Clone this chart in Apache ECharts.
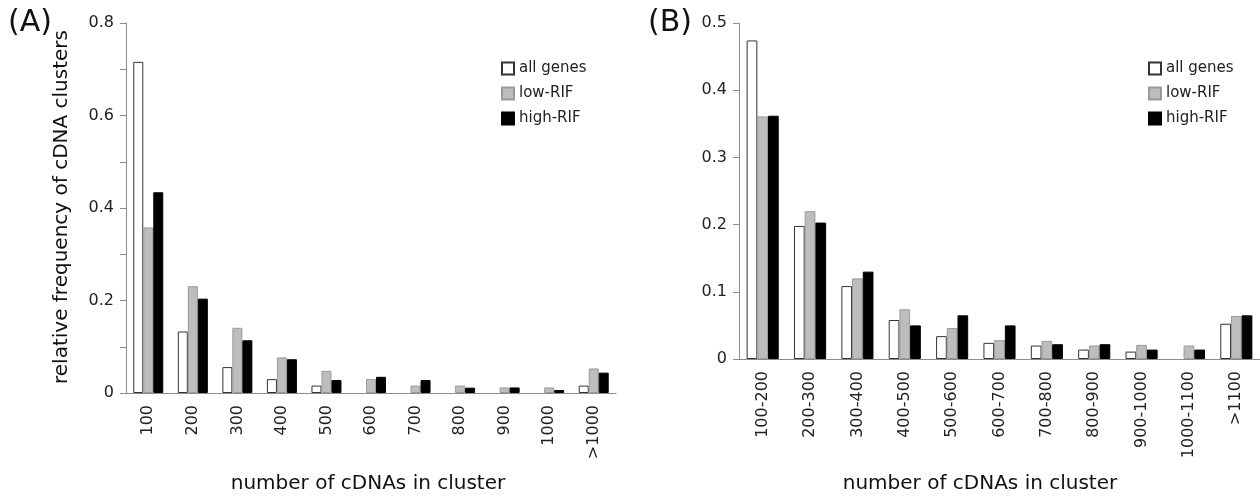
<!DOCTYPE html>
<html>
<head>
<meta charset="utf-8">
<script src="https://cdn.jsdelivr.net/npm/echarts@6/dist/echarts.min.js"></script>
<style>
  html, body { margin: 0; padding: 0; background: #fff; }
  #chart { width: 1260px; height: 497px; }
</style>
</head>
<body>
<div id="chart"></div>
<script>
// panel A: cluster size bins
const catsA = ['100', '200', '300', '400', '500', '600', '700', '800', '900', '1000', '>1000']
const allA = [0.716, 0.133, 0.056, 0.030, 0.016, 0, 0, 0, 0, 0, 0.016]
const lowA = [0.358, 0.231, 0.141, 0.077, 0.048, 0.030, 0.016, 0.016, 0.012, 0.012, 0.053]
const highA = [0.434, 0.204, 0.114, 0.073, 0.028, 0.035, 0.028, 0.0115, 0.012, 0.0065, 0.044]

// panel B: cluster size ranges
const catsB = ['100-200', '200-300', '300-400', '400-500', '500-600', '600-700', '700-800', '800-900', '900-1000', '1000-1100', '>1100']
const allB = [0.474, 0.198, 0.1085, 0.058, 0.034, 0.024, 0.020, 0.014, 0.011, 0, 0.0525]
const lowB = [0.361, 0.220, 0.120, 0.074, 0.046, 0.028, 0.027, 0.020, 0.021, 0.020, 0.064]
const highB = [0.362, 0.203, 0.130, 0.050, 0.065, 0.050, 0.022, 0.022, 0.014, 0.014, 0.065]

const seriesNames = ['all genes', 'low-RIF', 'high-RIF']

const font = 'DejaVu Sans'
const axisColor = '#8c8c8c'
const styles = [
    { color: '#ffffff', borderColor: '#333', borderWidth: 1 },
    { color: '#bdbdbd', borderColor: '#999', borderWidth: 1 },
    { color: '#000000', borderColor: '#000', borderWidth: 1 }
]

const chart = echarts.init(document.getElementById('chart'))

const xAxisFor = (idx, cats) => ({
    type: 'category',
    gridIndex: idx,
    data: cats,
    axisLine: { lineStyle: { color: axisColor } },
    axisTick: { length: 6, lineStyle: { color: axisColor } },
    axisLabel: { rotate: 90, margin: 12, fontFamily: font, fontSize: 16, color: '#222', interval: 0 }
})

const yAxisFor = (idx, max, interval, minor) => ({
    type: 'value',
    gridIndex: idx,
    min: 0,
    max: max,
    interval: interval,
    axisLine: { show: true, lineStyle: { color: axisColor } },
    axisTick: { show: true, length: 6, lineStyle: { color: axisColor } },
    minorTick: { show: minor, splitNumber: 2, length: 6, lineStyle: { color: axisColor } },
    splitLine: { show: false },
    axisLabel: { margin: 12, fontFamily: font, fontSize: 16, color: '#222' }
})

// empty bins (0) are not drawn in the original
const makeSeries = (idx, lists, bw) => lists.map((d, i) => ({
    name: seriesNames[i],
    type: 'bar',
    xAxisIndex: idx,
    yAxisIndex: idx,
    data: d.map(v => (v === 0 ? '-' : v)),
    barWidth: bw,
    barGap: '0%',
    itemStyle: styles[i],
    emphasis: { disabled: true }
}))

const legendFor = (left) => ({
    left: left,
    top: 56,
    orient: 'vertical',
    icon: 'rect',
    itemWidth: 12,
    itemHeight: 12,
    itemGap: 10,
    data: seriesNames,
    selectedMode: false,
    textStyle: { fontFamily: font, fontSize: 15, color: '#222' }
})

const option = {
    animation: false,
    backgroundColor: '#fff',
    grid: [
        { left: 126, top: 23, width: 490, height: 370 },
        { left: 739, top: 23, width: 522, height: 336 }
    ],
    xAxis: [xAxisFor(0, catsA), xAxisFor(1, catsB)],
    yAxis: [yAxisFor(0, 0.8, 0.2, true), yAxisFor(1, 0.5, 0.1, false)],
    legend: [legendFor(496), legendFor(1143)],
    series: [
        ...makeSeries(0, [allA, lowA, highA], 10),
        ...makeSeries(1, [allB, lowB, highB], 10.7)
    ],
    graphic: [
        { type: 'text', left: 8, top: 8, style: { text: '(A)', font: '30px "DejaVu Sans"', fill: '#111' } },
        { type: 'text', left: 648, top: 8, style: { text: '(B)', font: '30px "DejaVu Sans"', fill: '#111' } },
        {
            type: 'text', x: 62, y: 207, rotation: Math.PI / 2,
            style: { text: 'relative frequency of cDNA clusters', font: '20px "DejaVu Sans"', fill: '#111', align: 'center', verticalAlign: 'middle' }
        },
        {
            type: 'text', x: 368, y: 484,
            style: { text: 'number of cDNAs in cluster', font: '20px "DejaVu Sans"', fill: '#111', align: 'center', verticalAlign: 'middle' }
        },
        {
            type: 'text', x: 980, y: 484,
            style: { text: 'number of cDNAs in cluster', font: '20px "DejaVu Sans"', fill: '#111', align: 'center', verticalAlign: 'middle' }
        }
    ]
}

chart.setOption(option)
</script>
</body>
</html>
